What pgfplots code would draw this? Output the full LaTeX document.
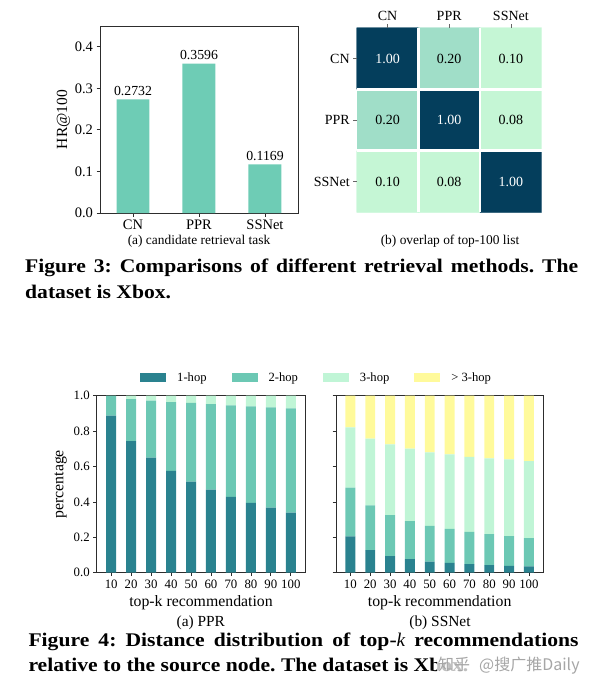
\documentclass[border=0pt]{standalone}
\usepackage{pgfplots}
\pgfplotsset{compat=1.18}
\usepackage{pgfplotstable}
\usepackage{fontspec}
\setmainfont{Liberation Serif}
\newfontfamily\capfont{Liberation Serif}[FakeStretch=1.12]
\newfontfamily\cjk{Noto Sans CJK SC}
\definecolor{hopA}{RGB}{42,130,143}
\definecolor{hopB}{RGB}{108,200,180}
\definecolor{hopC}{RGB}{192,245,214}
\definecolor{hopD}{RGB}{255,250,155}
\definecolor{barc}{RGB}{110,204,181}
\definecolor{axc}{RGB}{45,45,45}

\pgfplotstableread{
k a b c d
0 0.887 0.113 0.000 0.000
1 0.744 0.237 0.019 0.000
2 0.650 0.322 0.028 0.000
3 0.576 0.388 0.036 0.000
4 0.514 0.445 0.041 0.000
5 0.469 0.484 0.047 0.000
6 0.429 0.516 0.055 0.000
7 0.395 0.545 0.060 0.000
8 0.367 0.567 0.066 0.000
9 0.339 0.589 0.072 0.000
}\ppr

\pgfplotstableread{
k a b c d
0 0.205 0.275 0.341 0.179
1 0.128 0.252 0.377 0.243
2 0.094 0.232 0.399 0.275
3 0.077 0.215 0.409 0.299
4 0.062 0.202 0.416 0.320
5 0.055 0.192 0.422 0.331
6 0.049 0.181 0.425 0.345
7 0.043 0.175 0.428 0.354
8 0.038 0.169 0.433 0.360
9 0.036 0.160 0.435 0.369
}\ssnet

\pgfplotstableread{
x y v
0 0 0.10
1 0 0.08
2 0 1.00
0 1 0.20
1 1 1.00
2 1 0.08
0 2 1.00
1 2 0.20
2 2 0.10
}\overlap

\newcommand{\fs}[1]{\fontsize{#1}{#1}\selectfont}

\pgfplotsset{
  mpl/.style={scale only axis, tick align=outside, tick pos=left,
    major tick length=3.5pt,
    every tick/.style={axc, line width=0.8pt},
    axis line style={axc, line width=0.8pt},
    /pgf/number format/assume math mode=true},
  hopleg/.style={legend image code/.code={\fill[##1] (0pt,-4.5pt) rectangle (26pt,4.5pt);}},
}

\begin{document}
\frenchspacing
\begin{tikzpicture}
\useasboundingbox (0,0) rectangle (602pt,-694pt);

% ---------- Figure 3 (a) ----------
\begin{axis}[mpl, at={(100pt,-213pt)}, anchor=south west, width=198pt, height=187pt,
  xmin=-0.5, xmax=2.5, ymin=0, ymax=0.45,
  ybar, bar width=0.5,
  xtick={0,1,2}, xticklabels={CN,PPR,SSNet},
  ytick={0,0.1,0.2,0.3,0.4},
  yticklabel style={/pgf/number format/.cd, fixed, fixed zerofill, precision=1},
  tick label style={font=\fs{14.5}},
  ylabel={HR@100}, ylabel style={font=\fs{15.5}, yshift=-2pt},
  nodes near coords={\pgfmathprintnumber[fixed, fixed zerofill, precision=4]{\pgfplotspointmeta}},
  nodes near coords style={font=\fs{13.8}, text=black},
]
\addplot[fill=barc, draw=none] coordinates {(0,0.2732) (1,0.3596) (2,0.1169)};
\end{axis}

% ---------- Figure 3 (b) heatmap ----------
\begin{axis}[at={(356.7pt,-212.3pt)}, anchor=south west, scale only axis,
  width=185pt, height=184.6pt,
  xmin=-0.5, xmax=2.5, ymin=-0.5, ymax=2.5,
  axis line style={draw=none},
  xtick={0,1,2}, ytick={0,1,2},
  xticklabels={CN,PPR,SSNet}, yticklabels={SSNet,PPR,CN},
  xtick pos=right, xticklabel pos=right, ytick pos=left,
  tick align=outside, major tick length=3.5pt,
  every tick/.style={black!60, line width=0.6pt},
  tick label style={font=\fs{14}},
  colormap={hm}{rgb255(0pt)=(197,246,213); rgb255(10pt)=(197,246,213); rgb255(20pt)=(160,222,200); rgb255(100pt)=(4,62,92)},
  point meta min=0, point meta max=1,
  extra x ticks={0.5,1.5}, extra y ticks={0.5,1.5},
  extra x tick labels={}, extra y tick labels={},
  extra tick style={grid=major, major grid style={white, line width=2.6pt}, major tick length=0pt},
  axis on top,
]
\addplot[matrix plot*, mesh/cols=3, point meta=explicit] table[x=x, y=y, meta=v] {\overlap};
\addplot[draw=none, nodes near coords, point meta=explicit symbolic,
  nodes near coords align={center},
  every node near coord/.append style={text=white, font=\fs{14}}]
  coordinates {(0,2)[1.00] (1,1)[1.00] (2,0)[1.00]};
\addplot[draw=none, nodes near coords, point meta=explicit symbolic,
  nodes near coords align={center},
  every node near coord/.append style={text=black, font=\fs{14}}]
  coordinates {(1,2)[0.20] (2,2)[0.10] (0,1)[0.20] (2,1)[0.08] (0,0)[0.10] (1,0)[0.08]};
\end{axis}

\node[font=\fs{13.4}] at (199pt,-241.7pt) {(a) candidate retrieval task};
\node[font=\fs{13.4}] at (450pt,-241.7pt) {(b) overlap of top-100 list};

\node[anchor=base west, inner sep=0pt, font=\capfont\fs{19.3}\bfseries] at (25pt,-272pt)
  {\makebox[553pt][s]{Figure 3: Comparisons of different retrieval methods. The}};
\node[anchor=base west, inner sep=0pt, font=\capfont\fs{19.3}\bfseries] at (25pt,-298.5pt)
  {dataset is Xbox.};

% ---------- Figure 4 (a) PPR ----------
\begin{axis}[mpl, at={(96.7pt,-572.7pt)}, anchor=south west, width=208.6pt, height=177pt,
  ybar stacked, bar width=0.5,
  xmin=-0.725, xmax=9.725, ymin=0, ymax=1,
  xtick={0,1,2,3,4,5,6,7,8,9}, xticklabels={10,20,30,40,50,60,70,80,90,100},
  ytick={0,0.2,0.4,0.6,0.8,1.0},
  yticklabel style={/pgf/number format/.cd, fixed, fixed zerofill, precision=1},
  tick label style={font=\fs{12.8}},
  ylabel={percentage}, ylabel style={font=\fs{15.8}},
  xlabel={top-k recommendation}, xlabel style={font=\fs{15.8}},
  legend columns=4,
  legend style={draw=none, fill=none, at={(0.2076,1.1017)}, anchor=west,
    inner sep=0pt, font=\fs{12.6},
    nodes={inner sep=0pt},
    /tikz/every odd column/.append style={column sep=11pt},
    /tikz/every even column/.append style={column sep=25pt}},
]
\addplot[fill=hopA, draw=none, hopleg] table[x=k, y=a] {\ppr};
\addplot[fill=hopB, draw=none, hopleg] table[x=k, y=b] {\ppr};
\addplot[fill=hopC, draw=none, hopleg] table[x=k, y=c] {\ppr};
\addplot[fill=hopD, draw=none, hopleg] table[x=k, y=d] {\ppr};
\legend{1-hop, 2-hop, 3-hop, > 3-hop}
\end{axis}

% ---------- Figure 4 (b) SSNet ----------
\begin{axis}[mpl, at={(336pt,-572.7pt)}, anchor=south west, width=207.3pt, height=177pt,
  ybar stacked, bar width=0.5,
  xmin=-0.725, xmax=9.725, ymin=0, ymax=1,
  xtick={0,1,2,3,4,5,6,7,8,9}, xticklabels={10,20,30,40,50,60,70,80,90,100},
  ytick={0,0.2,0.4,0.6,0.8,1.0}, yticklabels={},
  tick label style={font=\fs{12.8}},
  xlabel={top-k recommendation}, xlabel style={font=\fs{15.8}},
]
\addplot[fill=hopA, draw=none] table[x=k, y=a] {\ssnet};
\addplot[fill=hopB, draw=none] table[x=k, y=b] {\ssnet};
\addplot[fill=hopC, draw=none] table[x=k, y=c] {\ssnet};
\addplot[fill=hopD, draw=none] table[x=k, y=d] {\ssnet};
\end{axis}

\node[font=\fs{15.4}] at (200.8pt,-622.3pt) {(a) PPR};
\node[font=\fs{15.4}] at (440pt,-622.3pt) {(b) SSNet};

\node[anchor=base west, inner sep=0pt, font=\capfont\fs{19.3}\bfseries] at (28.3pt,-646.7pt)
  {\makebox[550pt][s]{Figure 4: Distance distribution of top-{\normalfont\itshape k} recommendations}};
\node[anchor=base west, inner sep=0pt, font=\capfont\fs{19.3}\bfseries] at (28.3pt,-671.7pt)
  {relative to the source node. The dataset is Xbox.};
\node[anchor=west, inner sep=1pt, fill=white, fill opacity=0.75, text opacity=1,
  text=black!35, font=\cjk\fs{16}] at (437pt,-666pt) {知乎\hspace{9pt}@搜广推Daily};
\end{tikzpicture}
\end{document}
